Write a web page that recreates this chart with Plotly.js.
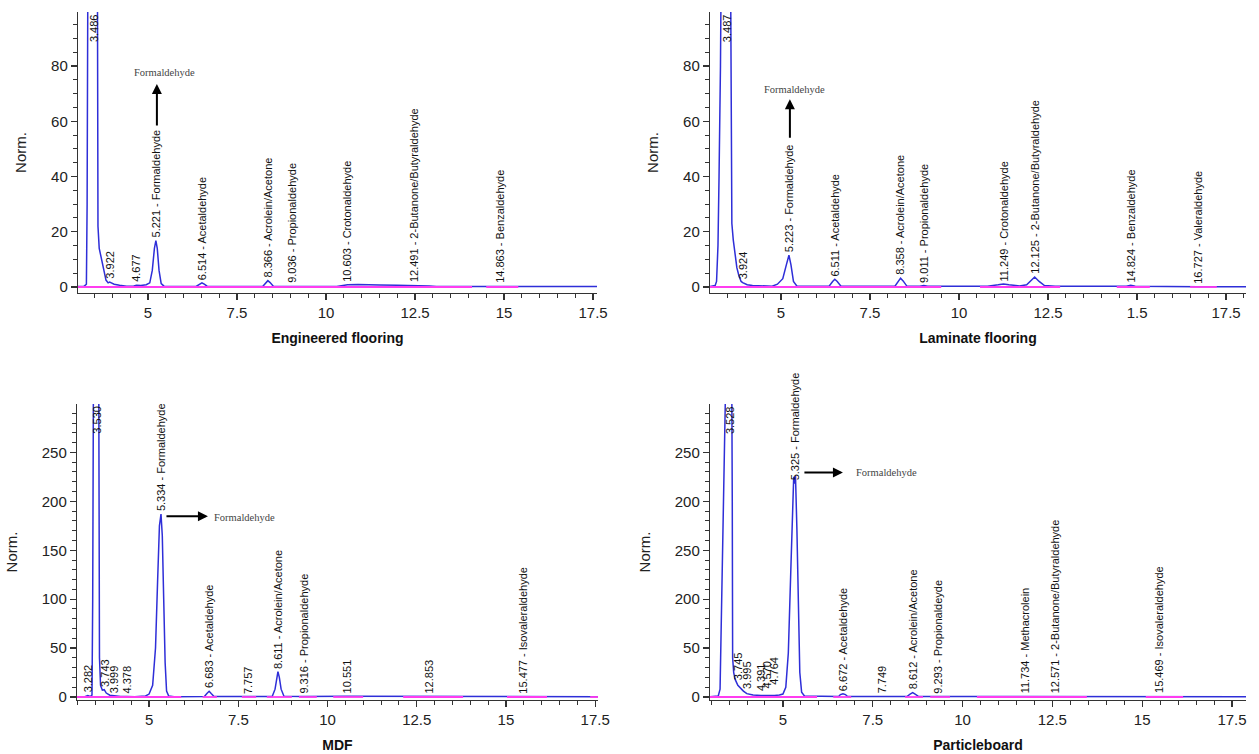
<!DOCTYPE html>
<html>
<head>
<meta charset="utf-8">
<script src="https://cdn.plot.ly/plotly-3.0.1.min.js"></script>
<style>html,body{margin:0;padding:0;background:#fff;}#chart{width:1259px;height:754px;}</style>
</head>
<body>
<div id="chart"></div>
<script>
// ---------- Engineered flooring ----------
const engTime = [3.03,3.20,3.27,3.29,3.31,3.40,3.486,3.56,3.58,3.595,3.63,3.68,3.72,3.76,3.82,3.88,3.922,3.97,4.05,4.20,4.40,4.60,4.677,4.80,4.95,5.05,5.12,5.18,5.221,5.26,5.31,5.37,5.45,6.35,6.44,6.514,6.58,6.66,8.22,8.30,8.366,8.43,8.52,8.95,9.036,9.15,10.30,10.45,10.603,10.90,11.20,11.50,12.00,12.491,12.90,13.10,14.75,14.863,15.00,17.61];
const engSignal = [0.2,0.2,1,30,110,300,350,300,110,22,14,11,8,5,2.5,1.5,1.8,1.5,1.0,0.6,0.3,0.4,0.6,0.5,0.8,1.5,6,14,16.8,14,6,1.2,0.3,0.2,0.9,1.5,1.0,0.3,0.2,1.5,2.3,1.6,0.3,0.2,0.3,0.2,0.2,0.6,0.8,0.9,0.9,0.7,0.6,0.6,0.4,0.2,0.2,0.3,0.2,0.2];
const engPeakTime = [3.486,3.922,4.677,5.221,6.514,8.366,9.036,10.603,12.491,14.863];
const engPeakHeight = [350,1.8,0.6,16.8,1.5,2.3,0.3,0.8,0.6,0.3];
const engPeakLabel = ['3.486','3.922','4.677','5.221 - Formaldehyde','6.514 - Acetaldehyde','8.366 - Acrolein/Acetone','9.036 - Propionaldehyde','10.603 - Crotonaldehyde','12.491 - 2-Butanone/Butyraldehyde','14.863 - Benzaldehyde'];
const engBaseStart = [3.03,14.5];
const engBaseEnd = [14.1,15.4];

// ---------- Laminate flooring ----------
const lamTime = [3.006,3.15,3.19,3.23,3.26,3.30,3.34,3.40,3.487,3.55,3.57,3.60,3.62,3.66,3.71,3.76,3.82,3.88,3.924,3.97,4.05,4.20,4.50,4.75,4.90,5.05,5.15,5.223,5.28,5.35,5.45,6.35,6.45,6.511,6.58,6.68,8.20,8.30,8.358,8.43,8.53,8.90,9.011,9.12,10.80,11.10,11.249,11.40,11.70,11.90,12.00,12.125,12.25,12.40,12.70,14.70,14.824,14.95,16.727,18.06];
const lamSignal = [0.2,0.5,2,15,40,80,150,300,350,300,150,50,23,17,12,7,4,2,1.6,1.2,0.8,0.5,0.3,0.3,1,3,8,11.5,8,2,0.3,0.3,2,2.8,2,0.4,0.3,2.2,3.2,2.2,0.4,0.3,0.5,0.3,0.3,0.8,1.1,0.8,0.4,0.8,2,3.6,2,0.5,0.3,0.3,0.6,0.3,0.1,0.1];
const lamPeakTime = [3.487,3.924,5.223,6.511,8.358,9.011,11.249,12.125,14.824,16.727];
const lamPeakHeight = [350,1.6,11.5,2.8,3.2,0.5,1.1,3.6,0.6,0.1];
const lamPeakLabel = ['3.487','3.924','5.223 - Formaldehyde','6.511 - Acetaldehyde','8.358 - Acrolein/Acetone','9.011 - Propionaldehyde','11.249 - Crotonaldehyde','12.125 - 2-Butanone/Butyraldehyde','14.824 - Benzaldehyde','16.727 - Valeraldehyde'];
const lamBaseStart = [3.006,10.59,14.43,16.49];
const lamBaseEnd = [9.5,12.84,15.36,17.24];
const lamXTickVals = [5,7.5,10,12.5,15,17.5];
const lamXTickText = ['5','7.5','10','12.5','1.5','17.5'];

// ---------- MDF ----------
const mdfTime = [2.98,3.20,3.282,3.35,3.40,3.42,3.44,3.53,3.59,3.61,3.64,3.69,3.743,3.80,3.90,3.999,4.20,4.378,4.60,4.90,5.00,5.10,5.18,5.24,5.29,5.334,5.37,5.41,5.45,5.49,5.55,5.70,6.55,6.62,6.683,6.74,6.82,7.757,8.45,8.53,8.58,8.611,8.65,8.70,8.78,9.316,10.551,12.853,15.477,17.58];
const mdfSignal = [0.3,0.3,1.5,0.5,2,100,320,400,320,40,12,7,7.5,4,1.8,1.2,0.5,0.4,0.3,1,3,12,50,120,175,187,165,100,35,6,1,0.3,0.5,3.5,5.8,3.5,0.5,0.4,0.5,8,20,26,20,8,0.8,0.5,0.8,0.8,0.8,0.3];
const mdfPeakTime = [3.282,3.530,3.743,3.999,4.378,5.334,6.683,7.757,8.611,9.316,10.551,12.853,15.477];
const mdfPeakHeight = [1.5,400,7.5,1.2,0.4,187,5.8,0.4,26,0.5,0.8,0.8,0.8];
const mdfPeakLabel = ['3.282','3.530','3.743','3.999','4.378','5.334 - Formaldehyde','6.683 - Acetaldehyde','7.757','8.611 - Acrolein/Acetone','9.316 - Propionaldehyde','10.551','12.853','15.477 - Isovaleraldehyde'];
const mdfBaseStart = [2.98,6.5,7.6,8.3,9.2,10.16,12.12,15.03,17.36];
const mdfBaseEnd = [5.9,6.9,8.0,9.0,9.7,11.0,13.8,16.15,17.58];

// ---------- Particleboard ----------
const pbTime = [2.97,3.15,3.20,3.25,3.30,3.35,3.40,3.528,3.57,3.59,3.60,3.63,3.67,3.745,3.81,3.90,3.995,4.17,4.391,4.570,4.764,4.90,5.00,5.08,5.15,5.22,5.27,5.30,5.325,5.35,5.39,5.43,5.47,5.52,5.60,6.55,6.60,6.672,6.74,6.80,7.749,8.45,8.54,8.612,8.68,8.78,9.293,11.734,12.571,15.469,17.89];
const pbSignal = [0.3,0.5,1,8,110,230,310,400,380,200,40,25,18,12,9,6,3.4,2,1.5,1.2,1.5,2,3,10,45,130,205,225,218,226,170,80,25,5,1,0.5,2.5,3.4,2.5,0.5,0.4,0.5,3,4.5,3,0.5,0.5,0.5,0.6,0.6,0.3];
const pbPeakTime = [3.528,3.745,3.995,4.391,4.570,4.764,5.325,6.672,7.749,8.612,9.293,11.734,12.571,15.469];
const pbPeakHeight = [400,14,5,3,6,10,218,3.4,0.4,4.5,0.5,0.5,0.6,0.6];
const pbPeakLabel = ['3.528','3.745','3.995','4.391','4.570','4.764','5.325 - Formaldehyde','6.672 - Acetaldehyde','7.749','8.612 - Acrolein/Acetone','9.293 - Propionaldeyde','11.734 - Methacrolein','12.571 - 2-Butanone/Butyraldehyde','15.469 - Isovaleraldehyde'];
const pbBaseStart = [2.97,6.4,8.4,9.1,10.4,15.1];
const pbBaseEnd = [5.95,6.9,8.9,9.65,13.46,16.14];
const pbYTickVals = [0,50,100,150,200,250];
const pbYTickText = ['0','50','200','250','200','250'];

const panelTitles = ['Engineered flooring','Laminate flooring','MDF','Particleboard'];

const panels = [
  {t:engTime,s:engSignal,pt:engPeakTime,ph:engPeakHeight,pl:engPeakLabel,bs:engBaseStart,be:engBaseEnd,xa:'x',ya:'y',ymax:99.6},
  {t:lamTime,s:lamSignal,pt:lamPeakTime,ph:lamPeakHeight,pl:lamPeakLabel,bs:lamBaseStart,be:lamBaseEnd,xa:'x2',ya:'y2',ymax:99.6},
  {t:mdfTime,s:mdfSignal,pt:mdfPeakTime,ph:mdfPeakHeight,pl:mdfPeakLabel,bs:mdfBaseStart,be:mdfBaseEnd,xa:'x3',ya:'y3',ymax:299.5},
  {t:pbTime,s:pbSignal,pt:pbPeakTime,ph:pbPeakHeight,pl:pbPeakLabel,bs:pbBaseStart,be:pbBaseEnd,xa:'x4',ya:'y4',ymax:299.5}
];

const traces = [];
const annotations = [];
panels.forEach(p => {
  traces.push({x:p.t, y:p.s, xaxis:p.xa, yaxis:p.ya, type:'scatter', mode:'lines',
    line:{color:'#2e2ed8', width:1.5}, hoverinfo:'skip'});
  const bx = [], by = [];
  p.bs.forEach((s,i) => { bx.push(s, p.be[i], null); by.push(0, 0, null); });
  traces.push({x:bx, y:by, xaxis:p.xa, yaxis:p.ya, type:'scatter', mode:'lines',
    line:{color:'#ff3cf0', width:1.8}, connectgaps:false, hoverinfo:'skip'});
  p.pt.forEach((t,i) => {
    const off = p.ph[i] > p.ymax;
    annotations.push({xref:p.xa, yref:p.ya, x:t, y: off ? p.ymax : p.ph[i],
      text:p.pl[i], textangle:-90, showarrow:false, xanchor:'center',
      yanchor: off ? 'top' : 'bottom', yshift: off ? 0 : 1,
      font:{size:11, color:'#111', family:'Liberation Sans, Arial, sans-serif'}});
  });
});

// Formaldehyde callouts
const calloutFont = {family:'Liberation Serif, Times New Roman, serif', size:10.5, color:'#444'};
annotations.push(
  {xref:'x', yref:'y', x:5.25, y:73.5, ax:0, ay:43, text:'', showarrow:true, arrowhead:2, arrowsize:1, arrowwidth:2, arrowcolor:'#000'},
  {xref:'x', yref:'y', x:5.45, y:77.8, text:'Formaldehyde', showarrow:false, font:calloutFont},
  {xref:'x2', yref:'y2', x:5.25, y:68, ax:0, ay:40, text:'', showarrow:true, arrowhead:2, arrowsize:1, arrowwidth:2, arrowcolor:'#000'},
  {xref:'x2', yref:'y2', x:5.37, y:71.6, text:'Formaldehyde', showarrow:false, font:calloutFont},
  {xref:'x3', yref:'y3', x:6.65, y:184.7, ax:-43, ay:0, text:'', showarrow:true, arrowhead:2, arrowsize:1, arrowwidth:2, arrowcolor:'#000'},
  {xref:'x3', yref:'y3', x:7.66, y:183, text:'Formaldehyde', showarrow:false, font:calloutFont},
  {xref:'x4', yref:'y4', x:6.67, y:229.5, ax:-40, ay:0, text:'', showarrow:true, arrowhead:2, arrowsize:1, arrowwidth:2, arrowcolor:'#000'},
  {xref:'x4', yref:'y4', x:7.87, y:229, text:'Formaldehyde', showarrow:false, font:calloutFont}
);

const W = 1259, H = 754;
const fx = px => px / W;
const fy = py => 1 - py / H;

const axCommon = {showline:true, linecolor:'#333', linewidth:1.2, ticks:'outside', ticklen:6, tickwidth:1.3,
  tickcolor:'#333', showgrid:false, zeroline:false, tickfont:{size:15, color:'#222'}};
function xAxis(dom, range, title, anchor, extra) {
  return Object.assign({}, axCommon, {domain:dom, range:range, anchor:anchor, tick0:0, dtick:2.5,
    minor:{tick0:0, dtick:0.5, ticks:'outside', ticklen:4, tickcolor:'#333', tickwidth:1, showgrid:false},
    title:{text:title, font:{size:14, weight:'bold', color:'#111'}, standoff:13}}, extra || {});
}
function yAxis(dom, range, dtick, mdt, anchor, extra) {
  return Object.assign({}, axCommon, {domain:dom, range:range, anchor:anchor, tick0:0, dtick:dtick,
    minor:{tick0:0, dtick:mdt, ticks:'outside', ticklen:4, tickcolor:'#333', tickwidth:1, showgrid:false},
    title:{text:'Norm.', font:{size:15, color:'#222'}, standoff:20}}, extra || {});
}

const layout = {
  width:W, height:H, margin:{l:0, r:0, t:0, b:0}, paper_bgcolor:'#fff', plot_bgcolor:'#fff',
  showlegend:false, font:{family:'Liberation Sans, Arial, sans-serif', color:'#222'},
  xaxis: xAxis([fx(78), fx(597)], [3.034, 17.61], panelTitles[0], 'y'),
  yaxis: yAxis([fy(293), fy(12)], [-2.18, 99.6], 20, 5, 'x'),
  xaxis2: xAxis([fx(710), fx(1246)], [3.006, 18.06], panelTitles[1], 'y2', {tickmode:'array', tickvals:lamXTickVals, ticktext:lamXTickText}),
  yaxis2: yAxis([fy(293), fy(12)], [-2.18, 99.6], 20, 5, 'x2'),
  xaxis3: xAxis([fx(77), fx(598)], [2.98, 17.58], panelTitles[2], 'y3'),
  yaxis3: yAxis([fy(700), fy(404)], [-3.07, 299.5], 50, 10, 'x3'),
  xaxis4: xAxis([fx(710), fx(1246)], [2.97, 17.89], panelTitles[3], 'y4'),
  yaxis4: yAxis([fy(700), fy(404)], [-3.07, 299.5], 50, 10, 'x4', {tickmode:'array', tickvals:pbYTickVals, ticktext:pbYTickText}),
  annotations: annotations
};

Plotly.newPlot('chart', traces, layout, {staticPlot:true, displayModeBar:false});
</script>
</body>
</html>
